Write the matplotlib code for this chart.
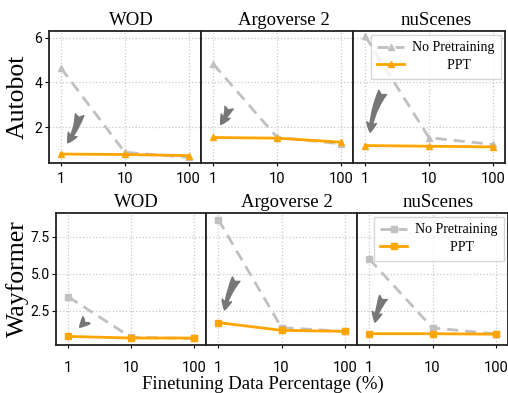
import matplotlib
matplotlib.use("Agg")
import matplotlib.pyplot as plt
from matplotlib.patches import FancyArrowPatch

# ---- data ----
datasets = ["WOD", "Argoverse 2", "nuScenes"]
models = ["Autobot", "Wayformer"]
percentages = [1, 10, 100]
tick_labels = ["1", "10", "100"]
series_names = ["No Pretraining", "PPT"]

autobot_nopre = {
    "WOD": [4.65, 0.88, 0.65],
    "Argoverse 2": [4.82, 1.55, 1.26],
    "nuScenes": [6.06, 1.53, 1.23],
}
autobot_ppt = {
    "WOD": [0.80, 0.78, 0.73],
    "Argoverse 2": [1.54, 1.51, 1.33],
    "nuScenes": [1.18, 1.15, 1.12],
}
wayformer_nopre = {
    "WOD": [3.45, 0.72, 0.64],
    "Argoverse 2": [8.66, 1.37, 1.12],
    "nuScenes": [6.00, 1.35, 0.95],
}
wayformer_ppt = {
    "WOD": [0.78, 0.67, 0.67],
    "Argoverse 2": [1.71, 1.19, 1.12],
    "nuScenes": [0.96, 0.96, 0.93],
}
autobot_yticks = [2, 4, 6]
wayformer_yticks = [2.5, 5.0, 7.5]

# ---- layout / style ----
W, H = 508, 393
fig = plt.figure(figsize=(W / 100, H / 100), dpi=100)
serif = "Liberation Serif"
tickfont = "Roboto"

rows = [
    dict(model="Autobot", nopre=autobot_nopre, ppt=autobot_ppt, marker="^",
         left=48.5, widths=[152.5, 152, 152], top=31, bottom=163,
         ylim=(0.4, 6.3), yticks=autobot_yticks, yfmt="{:g}", xpad=4, titlex=0.545,
         arrows=[((0.207, 0.386), (0.115, 0.136), -0.12),
                 ((0.19, 0.44), (0.118, 0.275), -0.1),
                 ((0.204, 0.553), (0.112, 0.212), 0.12)]),
    dict(model="Wayformer", nopre=wayformer_nopre, ppt=wayformer_ppt, marker="s",
         left=56, widths=[150, 151, 151], top=213, bottom=345,
         ylim=(0.2, 9.1), yticks=wayformer_yticks, yfmt="{:.1f}", xpad=9, titlex=0.535,
         arrows=[((0.2, 0.184), (0.145, 0.119), 0.0),
                 ((0.209, 0.517), (0.12, 0.245), 0.1),
                 ((0.184, 0.379), (0.117, 0.152), 0.1)]),
]

for r in rows:
    x0 = r["left"]
    axes = []
    for i, ds in enumerate(datasets):
        w = r["widths"][i]
        ax = fig.add_axes([x0 / W, 1 - r["bottom"] / H, w / W, (r["bottom"] - r["top"]) / H])
        x0 += w
        axes.append(ax)
        ax.set_xscale("log")
        ax.set_xlim(0.64, 156)
        ax.set_ylim(*r["ylim"])
        ax.grid(True, linestyle=":", color="#c8c8c8", linewidth=0.9)
        ax.set_axisbelow(True)
        ax.plot(percentages, r["nopre"][ds], linestyle="--", color="#c0c0c0",
                linewidth=2, marker=r["marker"], markersize=5, dashes=(4, 2.5),
                label=series_names[0], zorder=3)
        ax.plot(percentages, r["ppt"][ds], linestyle="-", color="#ffa500",
                linewidth=2, marker=r["marker"], markersize=5,
                label=series_names[1], zorder=4)
        ax.set_xticks(percentages)
        ax.set_xticklabels(tick_labels, fontfamily=tickfont, fontsize=10.5)
        ax.minorticks_off()
        ax.tick_params(axis="x", direction="out", length=2.5, width=0.8, pad=r["xpad"])
        ax.set_yticks(r["yticks"])
        if i == 0:
            ax.set_yticklabels([r["yfmt"].format(v) for v in r["yticks"]],
                               fontfamily=tickfont, fontsize=10)
            ax.tick_params(axis="y", direction="out", length=3, width=0.8, pad=1.5)
            ax.set_ylabel(r["model"], fontfamily=serif, fontsize=18.5)
        else:
            ax.set_yticklabels([])
            ax.tick_params(axis="y", length=0)
        for s in ax.spines.values():
            s.set_linewidth(1.3)
            s.set_color("#222222")
        ax.set_title(ds, fontfamily=serif, fontsize=13.5, pad=4, x=r["titlex"])
        (sa, ea, rad) = r["arrows"][i]
        arr = FancyArrowPatch(sa, ea, transform=ax.transAxes,
                              arrowstyle="fancy,head_length=0.5,head_width=0.5,tail_width=0.45",
                              connectionstyle=f"arc3,rad={rad}",
                              mutation_scale=14, color="#777777", zorder=5)
        ax.add_patch(arr)
        if i == 2:
            leg = ax.legend(loc="upper right", prop={"family": serif, "size": 10},
                            frameon=True, fancybox=False, edgecolor="#cccccc",
                            borderaxespad=0.3, handlelength=1.9, labelspacing=0.35,
                            borderpad=0.45, handletextpad=0.6)
            leg.get_frame().set_linewidth(1.0)
            leg.get_texts()[1].set_text("          " + series_names[1])
    axes[0].yaxis.set_label_coords((29 - r["left"]) / r["widths"][0], 0.5)

fig.text(263 / W, 1 - 384 / H, "Finetuning Data Percentage (%)", fontfamily=serif,
         fontsize=13.5, ha="center", va="center")

fig.savefig("out.png", dpi=100)
